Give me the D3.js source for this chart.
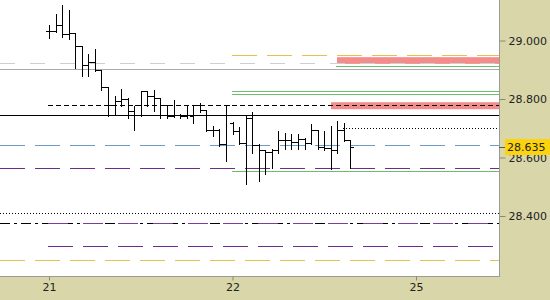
<!DOCTYPE html>
<html>
<head>
<meta charset="utf-8">
<script src="https://cdn.jsdelivr.net/npm/d3@7"></script>
<style>
body { margin: 0; background: #fff; }
.chart text { font-family: "DejaVu Sans", Verdana, sans-serif; font-size: 11px; fill: #222; }
</style>
</head>
<body>
<div class="chart"></div>
<script>
// Set up chart
var svgWidth = 550;
var svgHeight = 300;
var plotW = 499;
var plotH = 276;

// OHLC bars
var openP  = [29.034, 29.034, 29.053, 29.022, 29.025, 28.981, 28.916, 28.926, 28.899, 28.841,
              28.779, 28.794, 28.800, 28.759, 28.779, 28.827, 28.810, 28.803, 28.779, 28.742,
              28.745, 28.742, 28.742, 28.779, 28.762, 28.694, 28.694, 28.646, 28.718, 28.691,
              28.650, 28.735, 28.643, 28.626, 28.619, 28.626, 28.660, 28.660, 28.653, 28.663,
              28.650, 28.694, 28.636, 28.632, 28.626, 28.694, 28.660];
var highP  = [29.056, 29.094, 29.125, 29.108, 29.026, 28.981, 28.957, 28.974, 28.899, 28.841,
              28.814, 28.838, 28.807, 28.779, 28.831, 28.831, 28.834, 28.807, 28.779, 28.800,
              28.752, 28.779, 28.783, 28.790, 28.762, 28.711, 28.701, 28.779, 28.725, 28.708,
              28.745, 28.759, 28.650, 28.626, 28.632, 28.694, 28.687, 28.684, 28.684, 28.670,
              28.718, 28.694, 28.694, 28.711, 28.728, 28.721, 28.660];
var lowP   = [29.012, 29.032, 29.015, 29.009, 28.909, 28.882, 28.882, 28.899, 28.834, 28.745,
              28.752, 28.779, 28.738, 28.697, 28.745, 28.779, 28.762, 28.738, 28.738, 28.742,
              28.738, 28.738, 28.721, 28.759, 28.694, 28.677, 28.643, 28.591, 28.684, 28.650,
              28.513, 28.619, 28.523, 28.547, 28.568, 28.619, 28.632, 28.632, 28.632, 28.632,
              28.650, 28.632, 28.629, 28.564, 28.619, 28.660, 28.568];
var closeP = [29.034, 29.053, 29.022, 29.025, 28.981, 28.916, 28.926, 28.899, 28.841, 28.779,
              28.794, 28.800, 28.759, 28.779, 28.827, 28.810, 28.803, 28.779, 28.742, 28.745,
              28.742, 28.745, 28.779, 28.762, 28.694, 28.694, 28.646, 28.779, 28.691, 28.650,
              28.735, 28.643, 28.626, 28.619, 28.626, 28.660, 28.660, 28.653, 28.663, 28.650,
              28.694, 28.636, 28.632, 28.626, 28.694, 28.660, 28.635];

// x axis: trading days and the bar where each starts
var dayLabels = ["21", "22", "25"];
var dayStartBar = [0, 28, 56];

// y axis ticks and last price
var yTicks = [28.4, 28.6, 28.8, 29.0];
var lastPrice = 28.635;

// horizontal levels (value, first bar; null = whole width)
var levelValues = [28.924, 28.9015, 28.745, 28.779, 28.643, 28.564, 28.554, 28.409,
                   28.377, 28.377, 28.297, 28.250, 28.950, 28.827, 28.816, 28.913, 28.700];
var levelFrom   = [null, null, null, 0, null, null, 28, null,
                   null, 0, 0, null, 28, 28, 28, 44, 45];

// shaded zones
var zoneLow  = [28.920, 28.765];
var zoneHigh = [28.943, 28.789];
var zoneFrom = [44, 43];

// line looks for each level, same order as levelValues
var levelStyles = [
  {c: "#cfcfcf", d: "15,15"},
  {c: "#a9a9a9", d: null},
  {c: "#000000", d: null},
  {c: "#000000", d: "5,3"},
  {c: "#6f9bc4", d: "25,10"},
  {c: "#6a2d8a", d: "25,10"},
  {c: "#6cbd6c", d: null},
  {c: "#000000", d: "1,2"},
  {c: "#000000", d: "10,4,3,4"},
  {c: "#7a3f9c", d: "20,15"},
  {c: "#6a2d8a", d: "25,10"},
  {c: "#e3c150", d: "25,10"},
  {c: "#e3c150", d: "25,10"},
  {c: "#6cbd6c", d: null},
  {c: "#6cbd6c", d: null},
  {c: "#6cbd6c", d: null},
  {c: "#000000", d: "1,2"}
];

var svg = d3.select(".chart")
  .append("svg")
  .attr("width", svgWidth)
  .attr("height", svgHeight);

// khaki panel behind axes
svg.append("rect")
  .attr("width", svgWidth)
  .attr("height", svgHeight)
  .attr("fill", "#d9d6a9");

svg.append("rect")
  .attr("width", plotW)
  .attr("height", plotH)
  .attr("fill", "#ffffff");

svg.append("clipPath").attr("id", "plotClip")
  .append("rect").attr("width", plotW).attr("height", plotH);

// scales
var xScale = d3.scaleLinear().domain([0, 56]).range([49, 416]);
var yScale = d3.scaleLinear().domain([28.4, 29.0]).range([216, 40.5]);

var plot = svg.append("g").attr("clip-path", "url(#plotClip)");

// zones
plot.selectAll(".zone")
  .data(zoneLow)
  .enter()
  .append("rect")
  .attr("class", "zone")
  .attr("x", function(d, i) { return Math.round(xScale(zoneFrom[i])); })
  .attr("y", function(d, i) { return yScale(zoneHigh[i]); })
  .attr("width", function(d, i) { return plotW - Math.round(xScale(zoneFrom[i])); })
  .attr("height", function(d, i) { return yScale(zoneLow[i]) - yScale(zoneHigh[i]); })
  .attr("fill", "#f48c8c");

// levels
plot.selectAll(".level")
  .data(levelValues)
  .enter()
  .append("line")
  .attr("class", "level")
  .attr("x1", function(d, i) { return levelFrom[i] === null ? 0 : Math.round(xScale(levelFrom[i])) - 1; })
  .attr("x2", plotW)
  .attr("y1", function(d) { return Math.round(yScale(d)) + 0.5; })
  .attr("y2", function(d) { return Math.round(yScale(d)) + 0.5; })
  .attr("stroke", function(d, i) { return levelStyles[i].c; })
  .attr("stroke-dasharray", function(d, i) { return levelStyles[i].d; })
  .attr("stroke-width", 1)
  .attr("shape-rendering", "crispEdges");

// OHLC bars
var bars = plot.selectAll(".bar")
  .data(openP)
  .enter()
  .append("g")
  .attr("class", "bar")
  .attr("stroke", "#000")
  .attr("stroke-width", 1)
  .attr("shape-rendering", "crispEdges");

function bx(i) { return Math.round(xScale(i)) + 0.5; }
function by(v) { return Math.round(yScale(v)) + 0.5; }

bars.append("line")
  .attr("x1", function(d, i) { return bx(i); })
  .attr("x2", function(d, i) { return bx(i); })
  .attr("y1", function(d, i) { return by(highP[i]); })
  .attr("y2", function(d, i) { return by(lowP[i]) + 1; });

bars.append("line")
  .attr("x1", function(d, i) { return bx(i) - 3.5; })
  .attr("x2", function(d, i) { return bx(i); })
  .attr("y1", function(d, i) { return by(openP[i]); })
  .attr("y2", function(d, i) { return by(openP[i]); });

bars.append("line")
  .attr("x1", function(d, i) { return bx(i); })
  .attr("x2", function(d, i) { return bx(i) + 3.5; })
  .attr("y1", function(d, i) { return by(closeP[i]); })
  .attr("y2", function(d, i) { return by(closeP[i]); });

// border of the plot
svg.append("line")
  .attr("x1", plotW + 0.5).attr("x2", plotW + 0.5)
  .attr("y1", 0).attr("y2", plotH + 1)
  .attr("stroke", "#9a9a9a");
svg.append("line")
  .attr("x1", 0).attr("x2", plotW + 1)
  .attr("y1", plotH + 0.5).attr("y2", plotH + 0.5)
  .attr("stroke", "#9a9a9a");

// right axis
var rightAxis = d3.axisRight(yScale)
  .tickValues(yTicks)
  .tickSize(6)
  .tickPadding(3)
  .tickFormat(d3.format(".3f"));

var yAxisG = svg.append("g")
  .attr("transform", "translate(" + (plotW + 0.5) + ",0)")
  .call(rightAxis);
yAxisG.select(".domain").remove();
yAxisG.selectAll(".tick line").attr("stroke", "#8a8a70");
yAxisG.selectAll(".tick text").attr("fill", "#222").style("font-size", "11px");

// bottom axis
var bottomAxis = d3.axisBottom(xScale)
  .tickValues(dayStartBar)
  .tickSize(4)
  .tickPadding(3)
  .tickFormat(function(d, i) { return dayLabels[i]; });

var xAxisG = svg.append("g")
  .attr("transform", "translate(0," + (plotH + 0.5) + ")")
  .call(bottomAxis);
xAxisG.select(".domain").remove();
xAxisG.selectAll(".tick line").attr("stroke", "#8a8a70");
xAxisG.selectAll(".tick text").attr("fill", "#222").style("font-size", "11px");

// last price marker
var lp = Math.round(yScale(lastPrice));
svg.append("rect")
  .attr("x", 505)
  .attr("y", lp - 8)
  .attr("width", 45)
  .attr("height", 16)
  .attr("fill", "#fdd40c");
svg.append("line")
  .attr("x1", plotW).attr("x2", 505)
  .attr("y1", lp + 0.5).attr("y2", lp + 0.5)
  .attr("stroke", "#555");
svg.append("text")
  .attr("x", 507)
  .attr("y", lp)
  .attr("dy", "0.35em")
  .text(d3.format(".3f")(lastPrice));
</script>
</body>
</html>
